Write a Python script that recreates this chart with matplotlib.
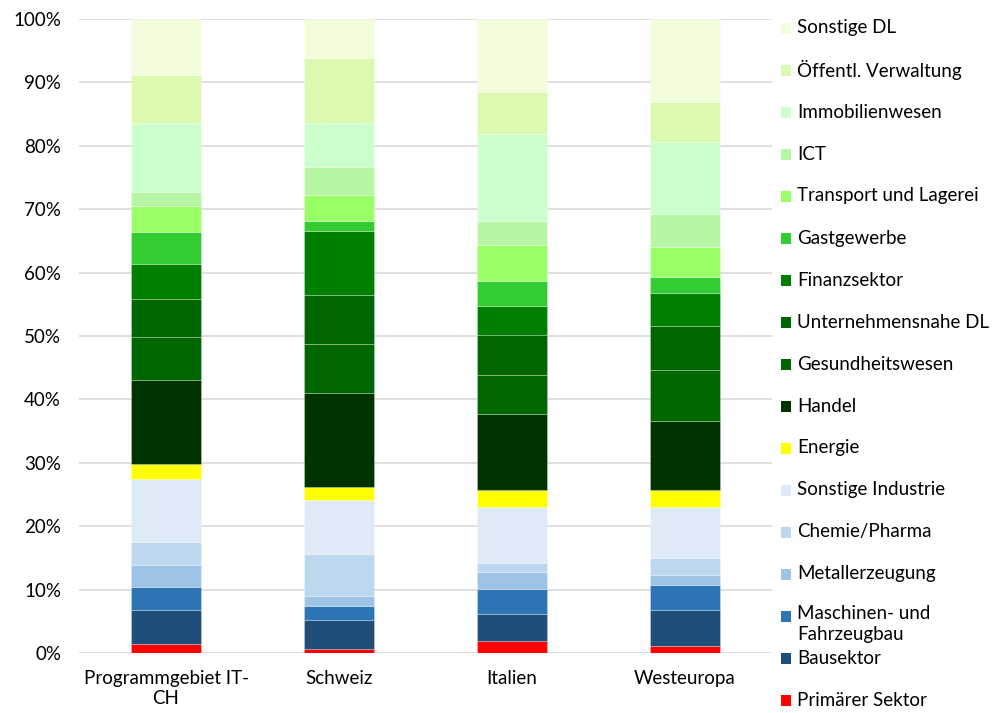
import matplotlib
matplotlib.use("Agg")
import matplotlib.pyplot as plt
from matplotlib.patches import Rectangle
from matplotlib.ticker import FuncFormatter, MultipleLocator

plt.rcParams['font.family'] = ['Lato', 'DejaVu Sans']

regions = ["Programmgebiet IT-\nCH", "Schweiz", "Italien", "Westeuropa"]

# sectors from bottom to top of each stacked bar
sectors = [
    "Primärer Sektor", "Bausektor", "Maschinen- und\nFahrzeugbau", "Metallerzeugung",
    "Chemie/Pharma", "Sonstige Industrie", "Energie", "Handel", "Gesundheitswesen",
    "Unternehmensnahe DL", "Finanzsektor", "Gastgewerbe", "Transport und Lagerei",
    "ICT", "Immobilienwesen", "Öffentl. Verwaltung", "Sonstige DL",
]
colors = [
    "#FF0000", "#1F4E79", "#2E75B6", "#9DC3E6", "#BDD7EE", "#DEEBF7", "#FFFF00",
    "#003300", "#006600", "#006600", "#008000", "#33CC33", "#99FF66", "#B6F6A4",
    "#CCFFCC", "#DCF9B0", "#F1FDDB",
]

# shares in percent, one list per region, same order as sectors
share_itch = [1.4, 5.5, 3.5, 3.5, 3.6, 10.0, 2.4, 13.1, 6.9, 5.9, 5.6, 5.0, 4.1, 2.2, 10.8, 7.6, 8.9]
share_ch = [0.6, 4.6, 2.2, 1.7, 6.5, 8.6, 2.0, 14.8, 7.7, 7.7, 10.2, 1.5, 4.1, 4.5, 6.8, 10.3, 6.2]
share_it = [1.9, 4.3, 4.0, 2.6, 1.4, 8.9, 2.7, 11.9, 6.2, 6.2, 4.7, 3.8, 5.7, 3.9, 13.7, 6.5, 11.6]
share_we = [1.1, 5.8, 3.8, 1.6, 2.7, 8.1, 2.7, 10.8, 8.0, 6.9, 5.2, 2.6, 4.8, 5.2, 11.3, 6.3, 13.1]
shares = [share_itch, share_ch, share_it, share_we]

FS = 13.5
W, H = 1004, 713
fig = plt.figure(figsize=(W / 100, H / 100), dpi=100)
ax = fig.add_axes([79.5 / W, (H - 653.3) / H, (771.5 - 79.5) / W, (653.3 - 18.7) / H])

x = list(range(len(regions)))
bottoms = [0.0] * len(regions)
for i, (name, col) in enumerate(zip(sectors, colors)):
    vals = [s[i] for s in shares]
    ax.bar(x, vals, width=0.405, bottom=bottoms, color=col,
           edgecolor=(1, 1, 1, 0.3), linewidth=0.6, zorder=3)
    bottoms = [b + v for b, v in zip(bottoms, vals)]

ax.set_xlim(-0.5, len(regions) - 0.5)
ax.set_ylim(0, 100)
ax.yaxis.set_major_locator(MultipleLocator(10))
ax.yaxis.set_major_formatter(FuncFormatter(lambda v, _: f"{v:.0f}%"))
ax.grid(axis='y', color='#D9D9D9', linewidth=1.2, zorder=0)
ax.set_axisbelow(True)
for sp in ax.spines.values():
    sp.set_visible(False)
ax.tick_params(axis='both', length=0, labelsize=FS, colors='#000000')
ax.tick_params(axis='y', pad=13.3)
ax.tick_params(axis='x', pad=12)
ax.set_xticks(x)
ax.set_xticklabels(regions, linespacing=1.25)

# legend on the right, top entry is the top segment
y0, step = 28, 42
for k, idx in enumerate(range(len(sectors) - 1, -1, -1)):
    yc = y0 + k * step
    fig.patches.append(Rectangle((781 / W, (H - yc - 5.5) / H), 10 / W, 11 / H,
                                 transform=fig.transFigure, facecolor=colors[idx],
                                 edgecolor='none'))
    label = sectors[idx]
    if "\n" in label:
        fig.text(797 / W, (H - yc + 11) / H, label, ha='left', va='top',
                 fontsize=FS, linespacing=1.3)
    else:
        fig.text(797 / W, (H - yc) / H, label, ha='left', va='center', fontsize=FS)

fig.savefig("out.png", dpi=100, facecolor='white')
